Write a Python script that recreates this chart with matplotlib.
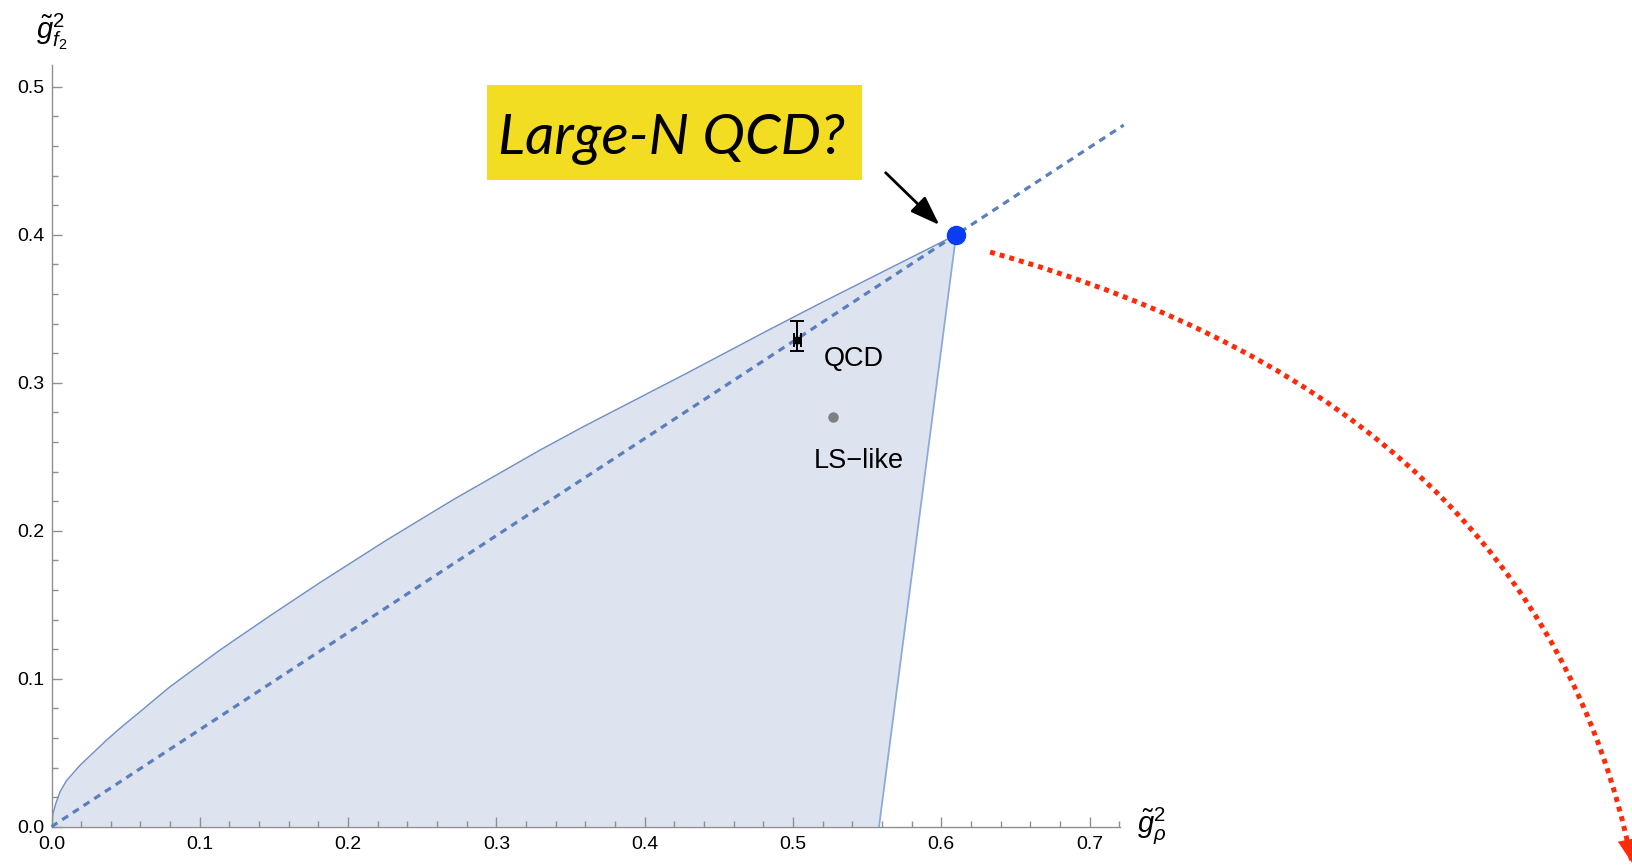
import matplotlib
matplotlib.use("Agg")
import matplotlib.pyplot as plt
from matplotlib.patches import Rectangle, PathPatch
from matplotlib.path import Path

plt.rcParams['font.family'] = ['Liberation Sans', 'DejaVu Sans']
plt.rcParams['mathtext.fontset'] = 'custom'
plt.rcParams['mathtext.rm'] = 'Liberation Sans'
plt.rcParams['mathtext.it'] = 'Liberation Sans:italic'

# Upper boundary of the allowed region (g_rho^2, g_f2^2)
bound_x = [0, 0.001, 0.003, 0.0057, 0.010, 0.0192, 0.0372, 0.0462, 0.0597,
           0.0799, 0.1136, 0.1473, 0.1811, 0.2260, 0.2709, 0.3294, 0.3586,
           0.4283, 0.4823, 0.5182, 0.61]
bound_y = [0, 0.009, 0.016, 0.0235, 0.031, 0.0415, 0.0586, 0.0665, 0.0777,
           0.0946, 0.1194, 0.1425, 0.1650, 0.1937, 0.2210, 0.2545, 0.2703,
           0.3064, 0.3350, 0.3536, 0.40]
# Lower-right edge meets the axis here
edge_x0 = 0.558

# Large-N kink and the ray through it
large_n = (0.61, 0.40)
ray_x_end = 0.723

# QCD estimate with asymmetric error
qcd_x, qcd_y = 0.503, 0.329
qcd_err_lo, qcd_err_hi = 0.0075, 0.013
qcd_xerr = 0.0025

# LS-like point
ls_x, ls_y = 0.527, 0.277

x_ticks = [0.0, 0.1, 0.2, 0.3, 0.4, 0.5, 0.6, 0.7]
y_ticks = [0.0, 0.1, 0.2, 0.3, 0.4, 0.5]

W, H = 1632, 866
fig = plt.figure(figsize=(W / 100, H / 100), dpi=100)
ax = fig.add_axes([51.5 / W, 39.3 / H, 1068.5 / W, 761.7 / H])
ax.set_xlim(0, 0.7205)
ax.set_ylim(0, 0.5147)

axis_grey = '#8f8f8f'
for s in ('top', 'right'):
    ax.spines[s].set_visible(False)
for s in ('left', 'bottom'):
    ax.spines[s].set_color(axis_grey)
    ax.spines[s].set_linewidth(1.0)

ax.set_xticks(x_ticks)
ax.set_yticks(y_ticks)
ax.set_xticklabels([f"{v:.1f}" for v in x_ticks])
ax.set_yticklabels([f"{v:.1f}" for v in y_ticks])
ax.set_xticks([i * 0.02 for i in range(37)], minor=True)
ax.set_yticks([i * 0.02 for i in range(26)], minor=True)
ax.tick_params(which='major', direction='in', length=7, width=1, color=axis_grey,
               labelsize=14)
ax.tick_params(which='minor', direction='in', length=4, width=1, color=axis_grey)
ax.tick_params(axis='x', which='major', pad=7)
ax.tick_params(axis='y', which='major', pad=5)

# Allowed region
poly_x = bound_x + [edge_x0]
poly_y = bound_y + [0]
ax.fill(poly_x, poly_y, facecolor='#dde3ef', edgecolor='none', zorder=1)
ax.plot(bound_x, bound_y, color='#6f8fc6', lw=1.0, zorder=2,
        solid_joinstyle='round')
ax.plot([large_n[0], edge_x0], [large_n[1], 0], color='#8eaad8', lw=1.3, zorder=2)

# Dashed ray through the kink
slope = large_n[1] / large_n[0]
ax.plot([0, ray_x_end], [0, slope * ray_x_end], color='#5b7fbd', lw=2.3,
        dashes=(2.2, 1.8), zorder=3, clip_on=False)

# Points
ax.plot(*large_n, 'o', color='#0a3df2', ms=13, zorder=6, clip_on=False)
ax.errorbar([qcd_x], [qcd_y], yerr=[[qcd_err_lo], [qcd_err_hi]], xerr=qcd_xerr,
            fmt='s', color='black', ms=5, elinewidth=1.4, capsize=5, capthick=1.4,
            zorder=5)
ax.plot(ls_x, ls_y, 'o', color='#808080', ms=6.5, zorder=5)

ax.text(0.541, 0.316, 'QCD', fontsize=19.5, ha='center', va='center', zorder=6)
ax.text(0.5444, 0.2474, 'LS\u2212like', fontsize=19.5, ha='center', va='center',
        zorder=6)

# Axis labels
ax.text(0.0, 0.537, r'$\tilde{g}^2_{f_2}$', fontsize=21, ha='center', va='center',
        clip_on=False)
ax.text(0.742, 0.001, r'$\tilde{g}^2_{\rho}$', fontsize=21, ha='center', va='center',
        clip_on=False)

# Callout box
fig.patches.append(Rectangle((487.3 / W, (H - 180) / H), 375 / W, 95 / H,
                             transform=fig.transFigure, facecolor='#f2dd22',
                             edgecolor='none', zorder=0))
fig.text(671 / W, (H - 153.3) / H, 'Large-N QCD?', fontsize=41, style='italic',
         family=['Lato', 'DejaVu Sans'], ha='center', va='baseline', color='black')

ax.annotate('', xy=(0.5987, 0.4066), xytext=(0.5625, 0.4419),
            arrowprops=dict(arrowstyle='-|>,head_length=0.9,head_width=0.32',
                            mutation_scale=20, lw=2, color='black',
                            shrinkA=0, shrinkB=0),
            annotation_clip=False, zorder=7)

# Curved red flow arrow
red = '#ff2a0a'
p0 = (0.6329, 0.3883)
pc = (1.0041, 0.2841)
p2 = (1.0658, -0.0245)
arc = Path([p0, pc, p2], [Path.MOVETO, Path.CURVE3, Path.CURVE3])
ax.add_patch(PathPatch(arc, fill=False, edgecolor=red, lw=3.6,
                       linestyle=(0, (1, 1)), capstyle='butt', clip_on=False,
                       zorder=4))
tx, ty = p2[0] - pc[0], p2[1] - pc[1]
norm = (tx ** 2 + ty ** 2) ** 0.5
back = 0.017
ax.annotate('', xy=p2, xytext=(p2[0] - back * tx / norm, p2[1] - back * ty / norm),
            arrowprops=dict(arrowstyle='-|>,head_length=0.85,head_width=0.35',
                            mutation_scale=20, lw=0, color=red,
                            shrinkA=0, shrinkB=0),
            annotation_clip=False, zorder=4)

fig.savefig('out.png', dpi=100, facecolor='white')
